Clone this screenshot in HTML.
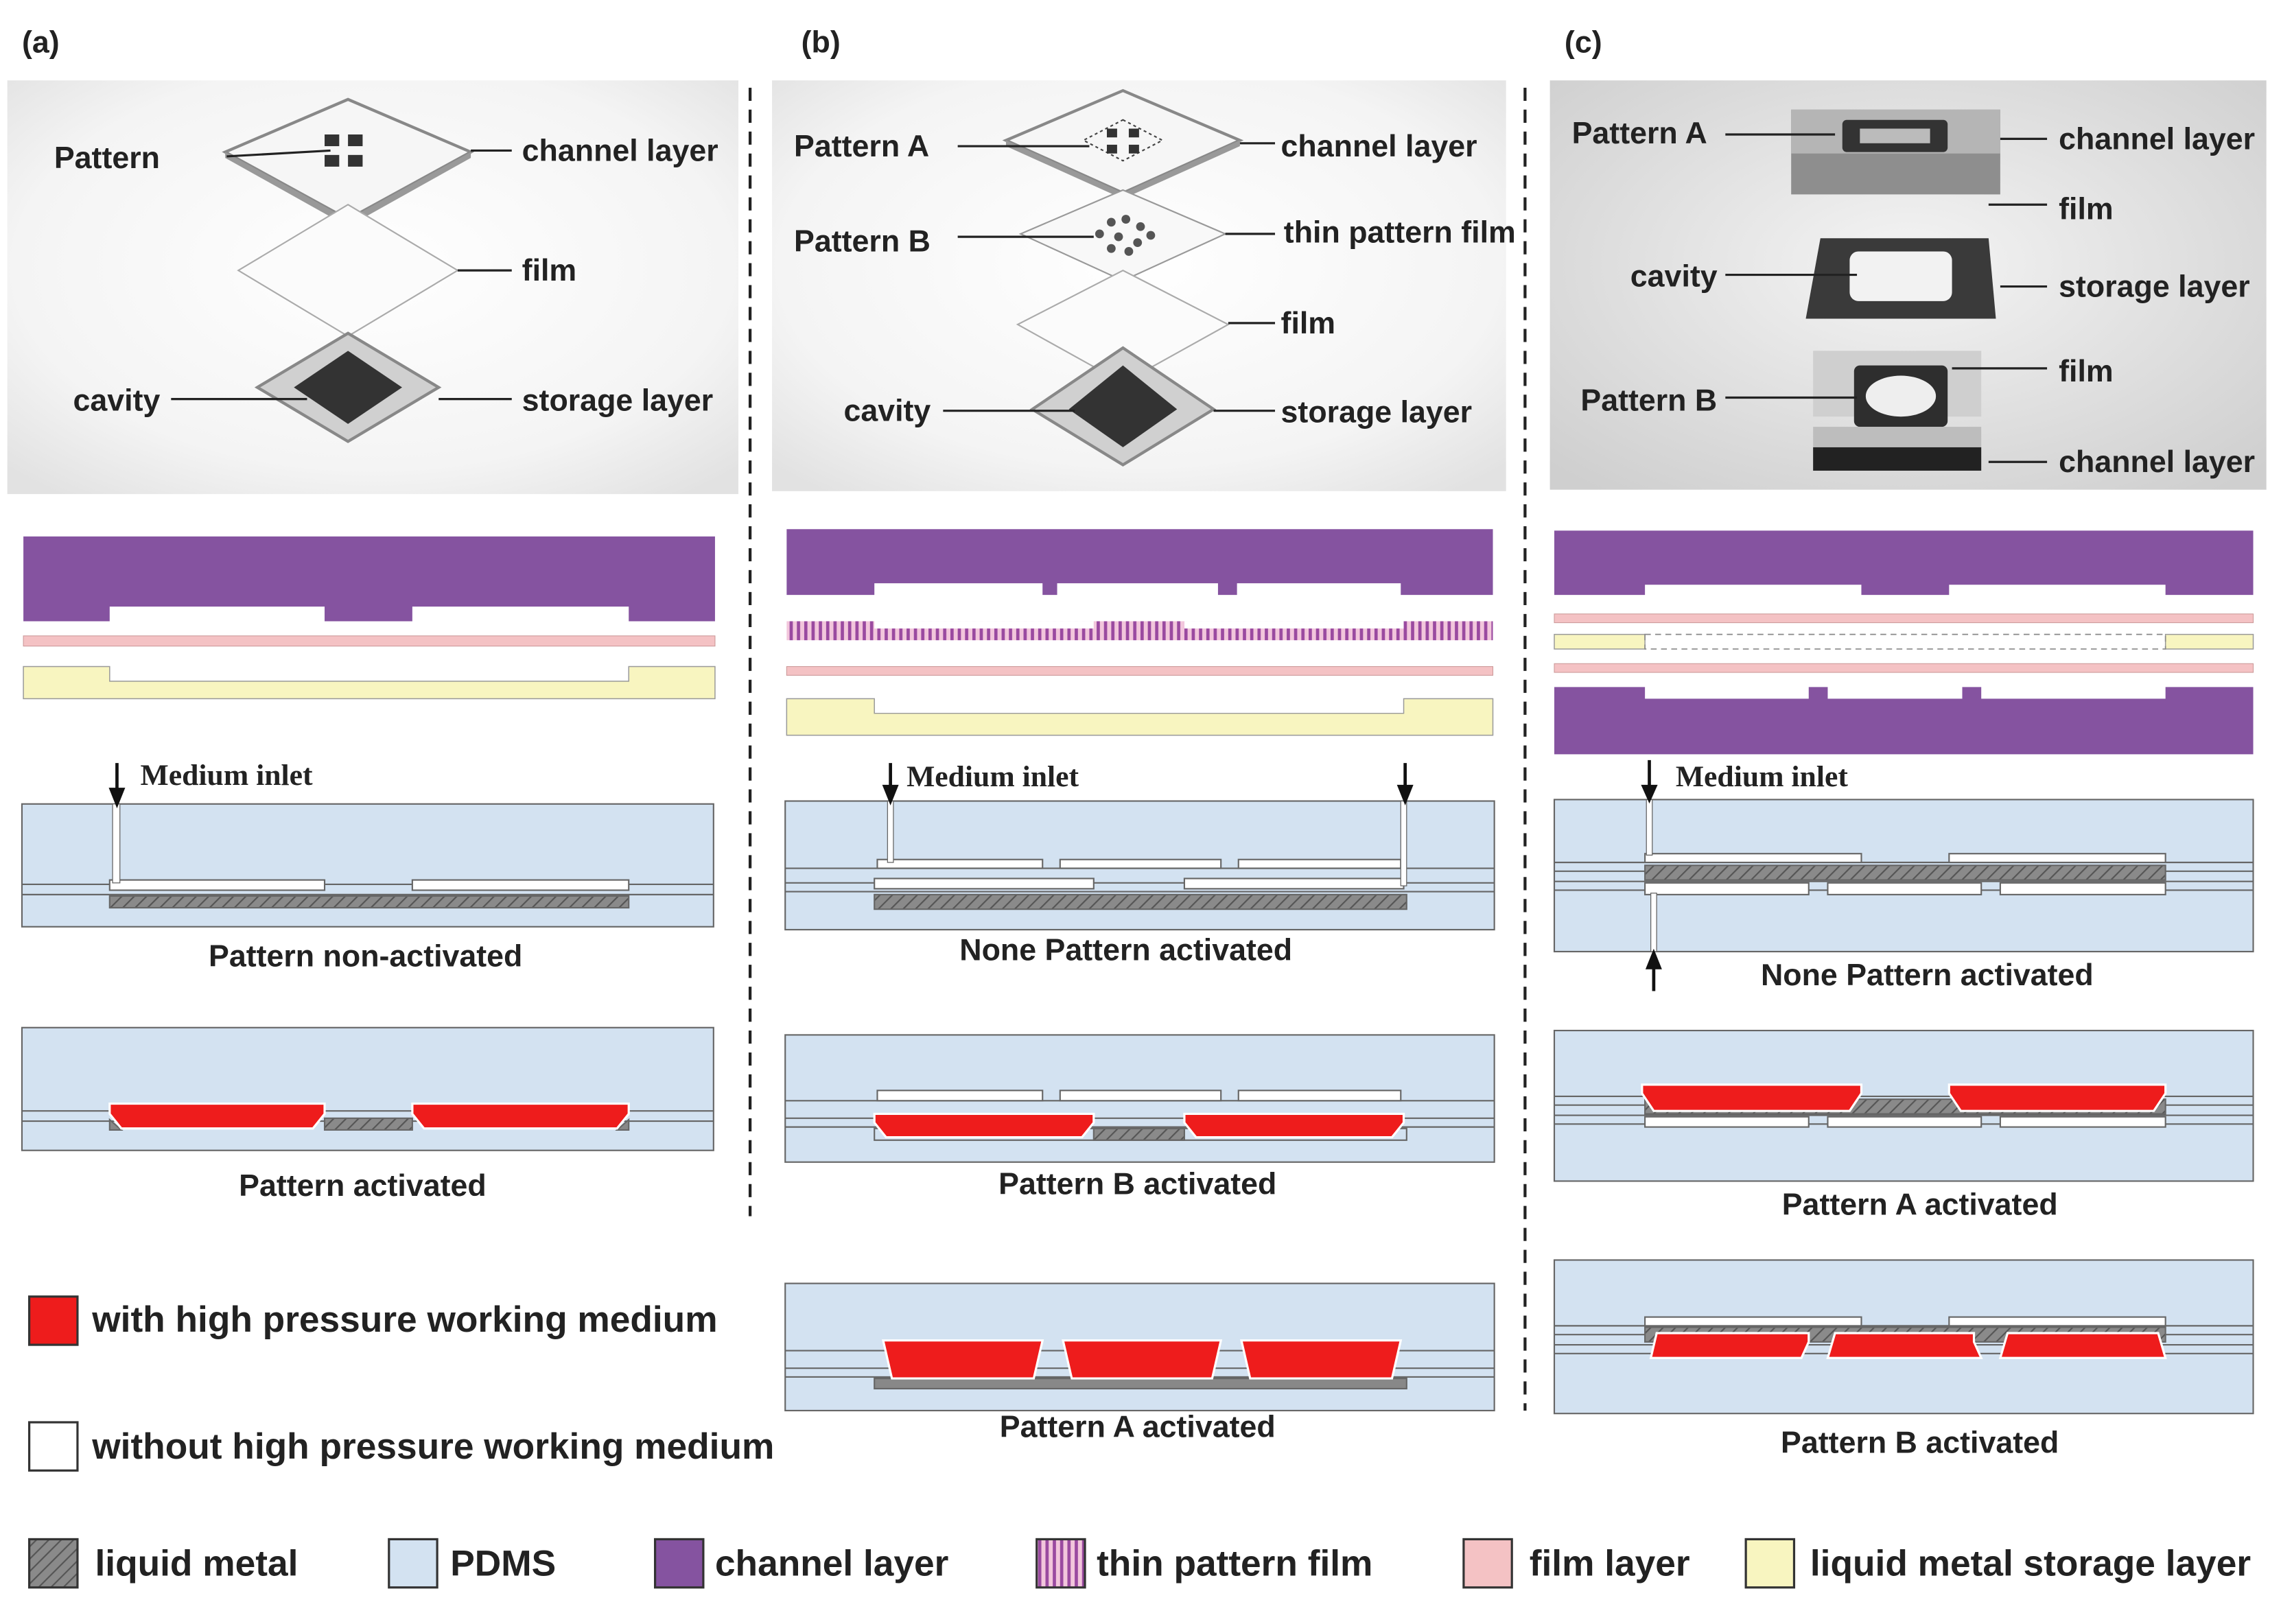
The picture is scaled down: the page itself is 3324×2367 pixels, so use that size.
<!DOCTYPE html>
<html><head><meta charset="utf-8"><style>
html,body{margin:0;padding:0;background:#fff;}
svg{display:block;}
text{font-family:"Liberation Sans",Arial,sans-serif;font-weight:bold;fill:#222;}
.s{font-family:"Liberation Serif",serif;}
</style></head><body>
<svg width="3324" height="2367" viewBox="0 0 1560 1111" preserveAspectRatio="none" xmlns="http://www.w3.org/2000/svg">
<defs>
<pattern id="h" width="6" height="6" patternUnits="userSpaceOnUse" patternTransform="rotate(45)"><rect width="6" height="6" fill="#8a8a8a"/><line x1="0" y1="0" x2="0" y2="6" stroke="#555" stroke-width="2"/></pattern>
<pattern id="v" width="5" height="5" patternUnits="userSpaceOnUse"><rect width="5" height="5" fill="#f2c6dc"/><rect width="2.2" height="5" fill="#9a4aa0"/></pattern>
<radialGradient id="g1" cx="0.5" cy="0.45" r="0.7"><stop offset="0" stop-color="#ffffff"/><stop offset="0.7" stop-color="#f4f4f4"/><stop offset="1" stop-color="#e2e2e2"/></radialGradient>
<radialGradient id="g2" cx="0.5" cy="0.45" r="0.7"><stop offset="0" stop-color="#f4f4f4"/><stop offset="1" stop-color="#cfcfcf"/></radialGradient>
</defs>

<text x="15" y="36" font-size="21">(a)</text>
<text x="548" y="36" font-size="21">(b)</text>
<text x="1070" y="36" font-size="21">(c)</text>
<line x1="513" y1="60" x2="513" y2="832" stroke="#222" stroke-width="2" stroke-dasharray="9,6"/>
<line x1="1043" y1="60" x2="1043" y2="965" stroke="#222" stroke-width="2" stroke-dasharray="9,6"/>

<!-- (a) 3D -->
<rect x="5" y="55" width="500" height="283" fill="url(#g1)"/>
<polygon points="238,68 322,104 238,150 154,104" fill="#f6f6f6" stroke="#888" stroke-width="2"/>
<polygon points="154,104 238,150 322,104 322,108 238,155 154,108" fill="#999"/>
<g fill="#333"><rect x="222" y="92" width="10" height="8"/><rect x="238" y="92" width="10" height="8"/><rect x="222" y="106" width="10" height="8"/><rect x="238" y="106" width="10" height="8"/></g>
<polygon points="238,140 313,185 238,230 163,185" fill="#fbfbfb" stroke="#aaa"/>
<polygon points="238,228 300,265 238,302 176,265" fill="#d0d0d0" stroke="#888" stroke-width="2"/>
<polygon points="238,240 275,265 238,290 201,265" fill="#333"/>
<g stroke="#222" stroke-width="1.5"><line x1="155" y1="107" x2="226" y2="103"/><line x1="322" y1="103" x2="350" y2="103"/><line x1="313" y1="185" x2="350" y2="185"/><line x1="117" y1="273" x2="210" y2="273"/><line x1="300" y1="273" x2="350" y2="273"/></g>
<g font-size="21">
<text x="37" y="115">Pattern</text>
<text x="357" y="110">channel layer</text>
<text x="357" y="192">film</text>
<text x="50" y="281">cavity</text>
<text x="357" y="281">storage layer</text>
</g>

<!-- (b) 3D -->
<rect x="528" y="55" width="502" height="281" fill="url(#g1)"/>
<polygon points="768,62 848,96 768,132 688,96" fill="#f6f6f6" stroke="#888" stroke-width="2"/>
<polygon points="688,96 768,132 848,96 848,100 768,136 688,100" fill="#999"/>
<polygon points="768,82 795,96 768,110 741,96" fill="none" stroke="#444" stroke-dasharray="2,2"/>
<g fill="#333"><rect x="757" y="88" width="7" height="6"/><rect x="772" y="88" width="7" height="6"/><rect x="757" y="99" width="7" height="6"/><rect x="772" y="99" width="7" height="6"/></g>
<polygon points="768,130 838,160 768,192 698,160" fill="#f8f8f8" stroke="#999"/>
<g fill="#555"><circle cx="760" cy="152" r="3"/><circle cx="770" cy="150" r="3"/><circle cx="780" cy="155" r="3"/><circle cx="752" cy="160" r="3"/><circle cx="765" cy="162" r="3"/><circle cx="778" cy="166" r="3"/><circle cx="760" cy="170" r="3"/><circle cx="772" cy="172" r="3"/><circle cx="787" cy="161" r="3"/></g>
<polygon points="768,185 840,222 768,262 696,222" fill="#fbfbfb" stroke="#aaa"/>
<polygon points="768,238 830,280 768,318 706,280" fill="#d0d0d0" stroke="#888" stroke-width="2"/>
<polygon points="768,250 805,280 768,306 731,280" fill="#333"/>
<g stroke="#222" stroke-width="1.5"><line x1="655" y1="100" x2="745" y2="100"/><line x1="848" y1="98" x2="872" y2="98"/><line x1="655" y1="162" x2="748" y2="162"/><line x1="838" y1="160" x2="872" y2="160"/><line x1="840" y1="221" x2="872" y2="221"/><line x1="645" y1="281" x2="735" y2="281"/><line x1="830" y1="281" x2="872" y2="281"/></g>
<g font-size="21">
<text x="543" y="107">Pattern A</text>
<text x="876" y="107">channel layer</text>
<text x="543" y="172">Pattern B</text>
<text x="878" y="166">thin pattern film</text>
<text x="876" y="228">film</text>
<text x="577" y="288">cavity</text>
<text x="876" y="289">storage layer</text>
</g>

<!-- (c) photo -->
<rect x="1060" y="55" width="490" height="280" fill="url(#g2)"/>
<rect x="1225" y="75" width="143" height="58" fill="#8e8e8e"/>
<rect x="1225" y="75" width="143" height="30" fill="#b5b5b5"/>
<rect x="1260" y="82" width="72" height="22" rx="3" fill="#333"/>
<rect x="1272" y="88" width="48" height="10" fill="#bbb"/>
<polygon points="1245,163 1360,163 1365,218 1235,218" fill="#3a3a3a"/>
<rect x="1265" y="172" width="70" height="34" rx="6" fill="#f2f2f2"/>
<rect x="1240" y="240" width="115" height="45" fill="#cfcfcf"/>
<rect x="1268" y="250" width="64" height="42" rx="4" fill="#2e2e2e"/>
<ellipse cx="1300" cy="271" rx="24" ry="14" fill="#eee"/>
<rect x="1240" y="292" width="115" height="14" fill="#bdbdbd"/>
<rect x="1240" y="306" width="115" height="16" fill="#222"/>
<g stroke="#222" stroke-width="1.5"><line x1="1180" y1="92" x2="1255" y2="92"/><line x1="1368" y1="95" x2="1400" y2="95"/><line x1="1360" y1="140" x2="1400" y2="140"/><line x1="1180" y1="188" x2="1270" y2="188"/><line x1="1368" y1="196" x2="1400" y2="196"/><line x1="1335" y1="252" x2="1400" y2="252"/><line x1="1180" y1="272" x2="1270" y2="272"/><line x1="1360" y1="316" x2="1400" y2="316"/></g>
<g font-size="21">
<text x="1075" y="98">Pattern A</text>
<text x="1408" y="102">channel layer</text>
<text x="1408" y="150">film</text>
<text x="1115" y="196">cavity</text>
<text x="1408" y="203">storage layer</text>
<text x="1408" y="261">film</text>
<text x="1081" y="281">Pattern B</text>
<text x="1408" y="323">channel layer</text>
</g>

<!-- layers (a) -->
<path d="M16,367H489V425H430V415H282V425H222V415H75V425H16Z" fill="#8553a0"/>
<rect x="16" y="435" width="473" height="7" fill="#f4c2c4" stroke="#c99" stroke-width="0.5"/>
<path d="M16,456H75V466H430V456H489V478H16Z" fill="#f8f5c0" stroke="#999" stroke-width="0.7"/>
<!-- layers (b) -->
<path d="M538,362H1021V407H958V399H846V407H833V399H723V407H713V399H598V407H538Z" fill="#8553a0"/>
<rect x="538" y="425" width="483" height="13" fill="url(#v)"/>
<rect x="598" y="425" width="150" height="5" fill="#fff"/><rect x="810" y="425" width="150" height="5" fill="#fff"/>
<rect x="598" y="430" width="362" height="3" fill="url(#v)"/>
<rect x="538" y="456" width="483" height="6" fill="#f4c2c4" stroke="#c99" stroke-width="0.5"/>
<path d="M538,478H598V488H960V478H1021V503H538Z" fill="#f8f5c0" stroke="#999" stroke-width="0.7"/>
<!-- layers (c) -->
<path d="M1063,363H1541V407H1481V400H1333V407H1273V400H1125V407H1063Z" fill="#8553a0"/>
<rect x="1063" y="420" width="478" height="6" fill="#f4c2c4" stroke="#c99" stroke-width="0.5"/>
<rect x="1063" y="434" width="62" height="10" fill="#f8f5c0" stroke="#999" stroke-width="0.7"/>
<rect x="1481" y="434" width="60" height="10" fill="#f8f5c0" stroke="#999" stroke-width="0.7"/>
<rect x="1125" y="434" width="356" height="10" fill="none" stroke="#888" stroke-width="0.8" stroke-dasharray="4,3"/>
<rect x="1063" y="454" width="478" height="6" fill="#f4c2c4" stroke="#c99" stroke-width="0.5"/>
<path d="M1063,470H1125V478H1237V470H1250V478H1342V470H1355V478H1481V470H1541V516H1063Z" fill="#8553a0"/>

<g stroke="#666" stroke-width="1">
<rect x="15" y="550" width="473" height="84" fill="#d3e2f1"/>
<line x1="15" y1="605" x2="488" y2="605"/><line x1="15" y1="612" x2="488" y2="612"/>
<rect x="75" y="602" width="147" height="7" fill="#fff"/><rect x="282" y="602" width="148" height="7" fill="#fff"/>
<rect x="75" y="613" width="355" height="8" fill="url(#h)"/>
<rect x="77" y="550" width="5" height="54" fill="#fff" stroke-width="0.6"/>

<rect x="15" y="703" width="473" height="84" fill="#d3e2f1"/>
<line x1="15" y1="760" x2="488" y2="760"/><line x1="15" y1="767" x2="488" y2="767"/>
<rect x="222" y="765" width="60" height="8" fill="url(#h)"/>
<path d="M75,766L75,773H83ZM430,766V773H422Z" fill="#888"/>
<path d="M75,755H222V762L214,772H83L75,762Z" fill="#ee1c1c" stroke="#fff" stroke-width="1.5"/>
<path d="M282,755H430V762L422,772H290L282,762Z" fill="#ee1c1c" stroke="#fff" stroke-width="1.5"/>

<rect x="537" y="548" width="485" height="88" fill="#d3e2f1"/>
<line x1="537" y1="594" x2="1022" y2="594"/><line x1="537" y1="604" x2="1022" y2="604"/><line x1="537" y1="610" x2="1022" y2="610"/>
<rect x="600" y="588" width="113" height="6" fill="#fff"/><rect x="725" y="588" width="110" height="6" fill="#fff"/><rect x="847" y="588" width="111" height="6" fill="#fff"/>
<rect x="598" y="601" width="150" height="7" fill="#fff"/><rect x="810" y="601" width="150" height="7" fill="#fff"/>
<rect x="598" y="612" width="364" height="10" fill="url(#h)"/>
<rect x="607" y="548" width="4" height="42" fill="#fff" stroke-width="0.6"/>
<rect x="958" y="548" width="4" height="58" fill="#fff" stroke-width="0.6"/>

<rect x="537" y="708" width="485" height="87" fill="#d3e2f1"/>
<line x1="537" y1="753" x2="1022" y2="753"/><line x1="537" y1="765" x2="1022" y2="765"/><line x1="537" y1="771" x2="1022" y2="771"/>
<rect x="600" y="746" width="113" height="7" fill="#fff"/><rect x="725" y="746" width="110" height="7" fill="#fff"/><rect x="847" y="746" width="111" height="7" fill="#fff"/>
<rect x="748" y="772" width="62" height="8" fill="url(#h)"/>
<rect x="598" y="772" width="364" height="8" fill="none"/>
<path d="M598,762H748V768L740,778H606L598,768Z" fill="#ee1c1c" stroke="#fff" stroke-width="1.5"/>
<path d="M810,762H960V768L952,778H818L810,768Z" fill="#ee1c1c" stroke="#fff" stroke-width="1.5"/>

<rect x="537" y="878" width="485" height="87" fill="#d3e2f1"/>
<line x1="537" y1="924" x2="1022" y2="924"/><line x1="537" y1="936" x2="1022" y2="936"/><line x1="537" y1="942" x2="1022" y2="942"/>
<rect x="598" y="943" width="364" height="7" fill="#888"/>
<path d="M604,917H713L707,943H610Z" fill="#ee1c1c" stroke="#fff" stroke-width="1.5"/>
<path d="M727,917H835L829,943H733Z" fill="#ee1c1c" stroke="#fff" stroke-width="1.5"/>
<path d="M849,917H958L952,943H855Z" fill="#ee1c1c" stroke="#fff" stroke-width="1.5"/>

<rect x="1063" y="547" width="478" height="104" fill="#d3e2f1"/>
<line x1="1063" y1="590" x2="1541" y2="590"/><line x1="1063" y1="596" x2="1541" y2="596"/><line x1="1063" y1="603" x2="1541" y2="603"/><line x1="1063" y1="609" x2="1541" y2="609"/>
<rect x="1125" y="584" width="148" height="6" fill="#fff"/><rect x="1333" y="584" width="148" height="6" fill="#fff"/>
<rect x="1125" y="592" width="356" height="10" fill="url(#h)"/>
<rect x="1125" y="604" width="112" height="8" fill="#fff"/><rect x="1250" y="604" width="105" height="8" fill="#fff"/><rect x="1368" y="604" width="113" height="8" fill="#fff"/>
<rect x="1126" y="547" width="4" height="38" fill="#fff" stroke-width="0.6"/>
<rect x="1129" y="611" width="4" height="40" fill="#fff" stroke-width="0.6"/>

<rect x="1063" y="705" width="478" height="103" fill="#d3e2f1"/>
<line x1="1063" y1="750" x2="1541" y2="750"/><line x1="1063" y1="756" x2="1541" y2="756"/><line x1="1063" y1="763" x2="1541" y2="763"/><line x1="1063" y1="769" x2="1541" y2="769"/>
<rect x="1125" y="752" width="356" height="10" fill="url(#h)"/>
<rect x="1125" y="764" width="112" height="7" fill="#fff"/><rect x="1250" y="764" width="105" height="7" fill="#fff"/><rect x="1368" y="764" width="113" height="7" fill="#fff"/>
<path d="M1123,742H1273V748L1265,760H1131L1123,748Z" fill="#ee1c1c" stroke="#fff" stroke-width="1.5"/>
<path d="M1333,742H1481V748L1473,760H1341L1333,748Z" fill="#ee1c1c" stroke="#fff" stroke-width="1.5"/>

<rect x="1063" y="862" width="478" height="105" fill="#d3e2f1"/>
<line x1="1063" y1="907" x2="1541" y2="907"/><line x1="1063" y1="913" x2="1541" y2="913"/><line x1="1063" y1="920" x2="1541" y2="920"/><line x1="1063" y1="926" x2="1541" y2="926"/>
<rect x="1125" y="901" width="148" height="6" fill="#fff"/><rect x="1333" y="901" width="148" height="6" fill="#fff"/>
<rect x="1125" y="908" width="356" height="10" fill="url(#h)"/>
<path d="M1133,912H1237V918L1232,929H1129Z" fill="#ee1c1c" stroke="#fff" stroke-width="1.5"/>
<path d="M1255,912H1350V918L1355,929H1250Z" fill="#ee1c1c" stroke="#fff" stroke-width="1.5"/>
<path d="M1373,912H1476L1481,929H1368Z" fill="#ee1c1c" stroke="#fff" stroke-width="1.5"/>
</g>

<g stroke="#111" stroke-width="2.2" fill="#111">
<line x1="80" y1="522" x2="80" y2="542"/><path d="M76,540L84,540L80,550Z"/>
<line x1="609" y1="522" x2="609" y2="540"/><path d="M605,538L613,538L609,548Z"/>
<line x1="961" y1="522" x2="961" y2="540"/><path d="M957,538L965,538L961,548Z"/>
<line x1="1128" y1="520" x2="1128" y2="540"/><path d="M1124,538L1132,538L1128,547Z"/>
<line x1="1131" y1="678" x2="1131" y2="660"/><path d="M1127,662L1135,662L1131,652Z"/>
</g>
<text class="s" x="96" y="537" font-size="20.5">Medium inlet</text>
<text class="s" x="620" y="538" font-size="20.5">Medium inlet</text>
<text class="s" x="1146" y="538" font-size="20.5">Medium inlet</text>

<g font-size="21" text-anchor="middle">
<text x="250" y="661">Pattern non-activated</text>
<text x="248" y="818">Pattern activated</text>
<text x="770" y="657">None Pattern activated</text>
<text x="778" y="817">Pattern B activated</text>
<text x="778" y="983">Pattern A activated</text>
<text x="1318" y="674">None Pattern activated</text>
<text x="1313" y="831">Pattern A activated</text>
<text x="1313" y="994">Pattern B activated</text>
</g>

<rect x="20" y="887" width="33" height="33" fill="#ee1c1c" stroke="#333" stroke-width="1.5"/>
<text x="63" y="911" font-size="25">with high pressure working medium</text>
<rect x="20" y="973" width="33" height="33" fill="#fff" stroke="#333" stroke-width="1.5"/>
<text x="63" y="998" font-size="25">without high pressure working medium</text>
<g stroke="#333" stroke-width="1.5">
<rect x="20" y="1053" width="33" height="33" fill="url(#h)"/>
<rect x="266" y="1053" width="33" height="33" fill="#d3e2f1"/>
<rect x="448" y="1053" width="33" height="33" fill="#8553a0"/>
<rect x="709" y="1053" width="33" height="33" fill="url(#v)"/>
<rect x="1001" y="1053" width="33" height="33" fill="#f4c2c4"/>
<rect x="1194" y="1053" width="33" height="33" fill="#f8f5c0"/>
</g>
<g font-size="25">
<text x="65" y="1078">liquid metal</text>
<text x="308" y="1078">PDMS</text>
<text x="489" y="1078">channel layer</text>
<text x="750" y="1078">thin pattern film</text>
<text x="1046" y="1078">film layer</text>
<text x="1238" y="1078">liquid metal storage layer</text>
</g>
</svg>
</body></html>
